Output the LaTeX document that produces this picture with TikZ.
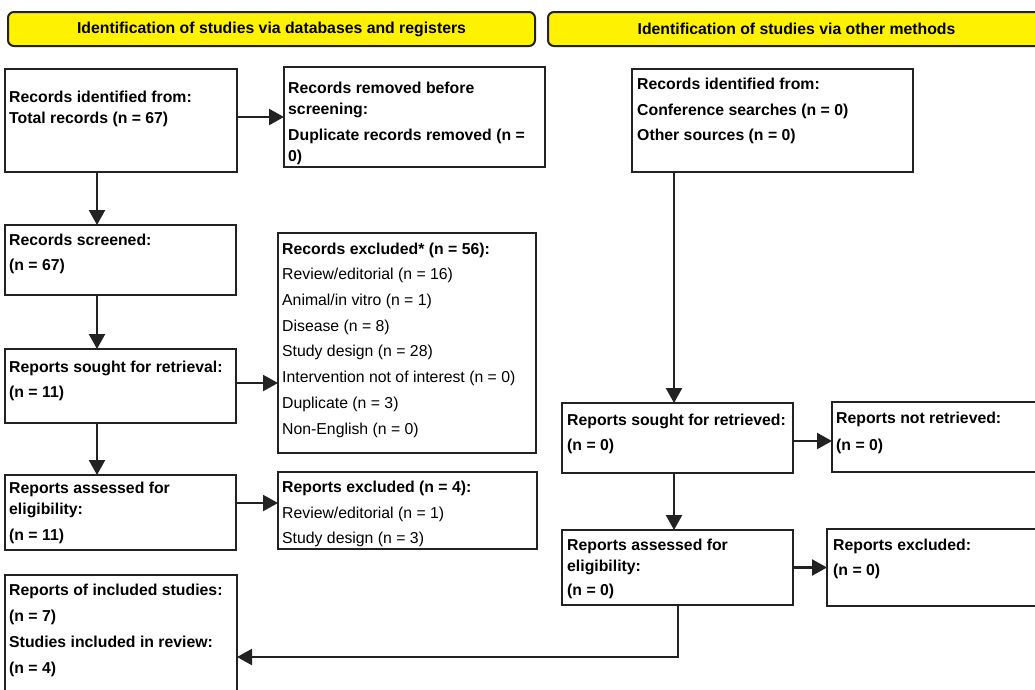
\documentclass[tikz,border=0pt]{standalone}
\usepackage{fontspec}
\setmainfont{Liberation Sans}
\usetikzlibrary{arrows.meta}
\definecolor{ink}{HTML}{222222}
\tikzset{
  box/.style={draw=ink, line width=2.3pt, anchor=north west, inner sep=0pt, outer sep=0pt},
  hdr/.style={draw=ink, line width=2pt, fill=yellow, rounded corners=6pt, anchor=north west,
    inner sep=0pt, outer sep=0pt, font=\bfseries\fontsize{15.8}{18}\selectfont},
  txt/.style={anchor=north west, inner sep=0pt, align=left, text=black, font=\fontsize{15.8}{21}\selectfont},
  btxt/.style={txt, font=\bfseries\fontsize{15.8}{21}\selectfont},
  arr/.style={draw=ink, line width=2.3pt, -{Triangle[length=15pt,width=16pt]}},
  elbow/.style={draw=ink, line width=2.3pt, -{Triangle[length=15pt,width=16pt]}}
}
\begin{document}
\begin{tikzpicture}[x=1pt,y=-1pt]
\useasboundingbox (0,0) rectangle (1035,689);
\fill[white] (0,0) rectangle (1035,689);

% headers
\node[hdr, minimum width=527pt, minimum height=34pt] (h1) at (8,12) {Identification of studies via databases and registers};
\node[hdr, minimum width=497pt, minimum height=34pt] (h2) at (548,12) {Identification of studies via other methods};

% boxes left column
\node[box, minimum width=232pt, minimum height=103pt] (A) at (5,69) {};
\node[box, minimum width=261pt, minimum height=100pt] (B) at (284,67) {};
\node[box, minimum width=231pt, minimum height=70pt] (C) at (5,225) {};
\node[box, minimum width=258pt, minimum height=220pt] (D) at (278,233) {};
\node[box, minimum width=231pt, minimum height=74pt] (E) at (5,349) {};
\node[box, minimum width=231pt, minimum height=75pt] (F) at (5,475) {};
\node[box, minimum width=259pt, minimum height=77pt] (G) at (278,472) {};
\node[box, minimum width=232pt, minimum height=130pt] (H) at (5,575) {};

% boxes right column
\node[box, minimum width=281pt, minimum height=103pt] (I) at (632,69) {};
\node[box, minimum width=231pt, minimum height=70pt] (J) at (562,403) {};
\node[box, minimum width=213pt, minimum height=70pt] (K) at (832,402) {};
\node[box, minimum width=231pt, minimum height=75pt] (L) at (562,530) {};
\node[box, minimum width=218pt, minimum height=77pt] (M) at (827,529) {};

% texts
\node[btxt] (At) at (9,91) {Records identified from:\\Total records (n = 67)};
\node[btxt] (Bt) at (288,81.5) {Records removed before\\screening:\\[5pt]Duplicate records removed (n =\\0)};
\node[btxt] (Ct) at (9,234) {Records screened:\\[4pt](n = 67)};
\node[txt] (Dt) at (282,242.5) {\textbf{Records excluded* (n = 56):}\\[4.7pt]Review/editorial (n = 16)\\[4.7pt]Animal/in vitro (n = 1)\\[4.7pt]Disease (n = 8)\\[4.7pt]Study design (n = 28)\\[4.7pt]Intervention not of interest (n = 0)\\[4.7pt]Duplicate (n = 3)\\[4.7pt]Non-English (n = 0)};
\node[btxt] (Et) at (9,361) {Reports sought for retrieval:\\[4pt](n = 11)};
\node[btxt] (Ft) at (9,482) {Reports assessed for\\eligibility:\\[4.5pt](n = 11)};
\node[txt] (Gt) at (282,481) {\textbf{Reports excluded (n = 4):}\\[4.5pt]Review/editorial (n = 1)\\[4.5pt]Study design (n = 3)};
\node[btxt] (Ht) at (9,584) {Reports of included studies:\\[5pt](n = 7)\\[5pt]Studies included in review:\\[5pt](n = 4)};
\node[btxt] (It) at (637,77.5) {Records identified from:\\[5.7pt]Conference searches (n = 0)\\[4pt]Other sources (n = 0)};
\node[btxt] (Jt) at (567,414) {Reports sought for retrieved:\\[4pt](n = 0)};
\node[btxt] (Kt) at (836,412) {Reports not retrieved:\\[6pt](n = 0)};
\node[btxt] (Lt) at (567,539) {Reports assessed for\\eligibility:\\[3pt](n = 0)};
\node[btxt] (Mt) at (833,539) {Reports excluded:\\[4pt](n = 0)};

% connectors
\coordinate (lx) at (97,0);
\coordinate (rx) at (674,0);
\coordinate (ey) at (0,383);
\coordinate (fy) at (0,503);
\coordinate (jy) at (0,441);
\coordinate (hx) at (678,0);
\coordinate (hy) at (0,657);
\draw[arr] (A.south -| lx) -- (C.north -| lx);
\draw[arr] (C.south -| lx) -- (E.north -| lx);
\draw[arr] (E.south -| lx) -- (F.north -| lx);
\draw[arr] (A.east |- B.west) -- (B.west);
\draw[arr] (E.east |- ey) -- (D.west |- ey);
\draw[arr] (F.east |- fy) -- (G.west |- fy);
\draw[arr] (I.south -| rx) -- (J.north -| rx);
\draw[arr] (J.south -| rx) -- (L.north -| rx);
\draw[arr] (J.east |- jy) -- (K.west |- jy);
\draw[arr] (L.east) -- (L.east -| M.west);
\draw[elbow] (L.south -| hx) |- (H.east |- hy);
\end{tikzpicture}
\end{document}
